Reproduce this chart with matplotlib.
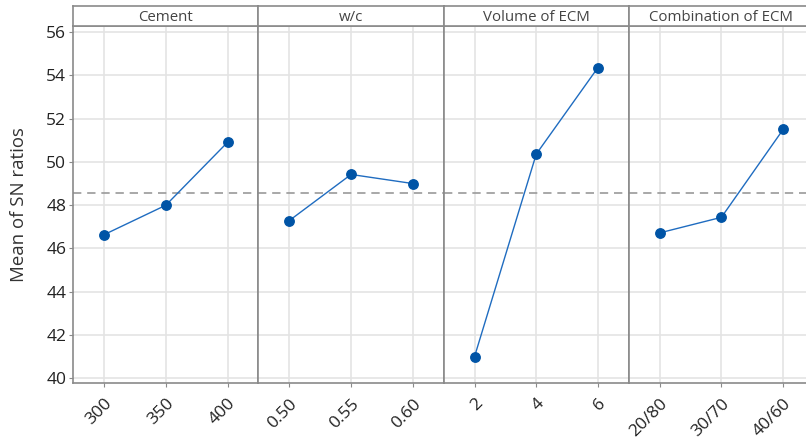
import numpy as np
import matplotlib
matplotlib.use('Agg')
import matplotlib.pyplot as plt

plt.rcParams['font.family'] = ['Open Sans', 'DejaVu Sans']

# Means of S/N ratios per factor level
factors = ['Cement', 'w/c', 'Volume of ECM', 'Combination of ECM']
levels = [['300', '350', '400'],
          ['0.50', '0.55', '0.60'],
          ['2', '4', '6'],
          ['20/80', '30/70', '40/60']]
cement_sn = [46.64, 48.00, 50.91]
wc_sn = [47.29, 49.42, 49.00]
vol_ecm_sn = [41.00, 50.36, 54.36]
comb_ecm_sn = [46.72, 47.44, 51.50]
sn_means = [cement_sn, wc_sn, vol_ecm_sn, comb_ecm_sn]
grand_mean = np.mean(sn_means)

yticks = [40, 42, 44, 46, 48, 50, 52, 54, 56]

W, H = 806, 444
fig = plt.figure(figsize=(W / 100, H / 100), dpi=100)

left, right = 73.3 / W, 814 / W
bottom, top = 1 - 383.3 / H, 1 - 26 / H
strip_top = 1 - 6 / H
pw = (right - left) / 4

frame_col = '#8a8a8a'
blue = '#0054a6'

for i, (name, labs, vals) in enumerate(zip(factors, levels, sn_means)):
    ax = fig.add_axes([left + i * pw, bottom, pw, top - bottom])
    x = np.arange(1, len(vals) + 1)
    ax.axhline(grand_mean, color='#9a9a9a', lw=1.2, ls=(0, (5, 3.5)), zorder=2)
    ax.plot(x, vals, color='#1f6cc0', lw=1.0, zorder=3)
    ax.plot(x, vals, 'o', color=blue, ms=6.8, zorder=4)
    ax.set_xlim(0.5, 3.5)
    ax.set_ylim(39.77, 56.28)
    ax.set_yticks(yticks)
    ax.set_xticks(x)
    ax.set_xticklabels(labs, rotation=45, ha='right', va='top',
                       rotation_mode='anchor', fontsize=12.5, color='#222222')
    ax.grid(True, color='#e4e4e4', lw=1.2, zorder=0)
    ax.set_axisbelow(True)
    for s in ax.spines.values():
        s.set_color(frame_col)
        s.set_linewidth(1.2)
    ax.tick_params(axis='x', length=3, color=frame_col, pad=6)
    if i == 0:
        ax.tick_params(axis='y', length=3, color=frame_col, labelsize=12.5,
                       labelcolor='#222222', pad=2)
        ax.set_ylabel('Mean of SN ratios', fontsize=13.4, color='#333333')
        ax.yaxis.set_label_coords(-0.245, 0.5)
    else:
        ax.tick_params(axis='y', left=False, labelleft=False)

    # panel header
    sax = fig.add_axes([left + i * pw, top, pw, strip_top - top])
    sax.set_xticks([])
    sax.set_yticks([])
    for s in sax.spines.values():
        s.set_color(frame_col)
        s.set_linewidth(1.2)
    sax.text(0.5, 0.42, name, ha='center', va='center', fontsize=10.8,
             color='#444444', transform=sax.transAxes)

fig.savefig('out.png', dpi=100)
